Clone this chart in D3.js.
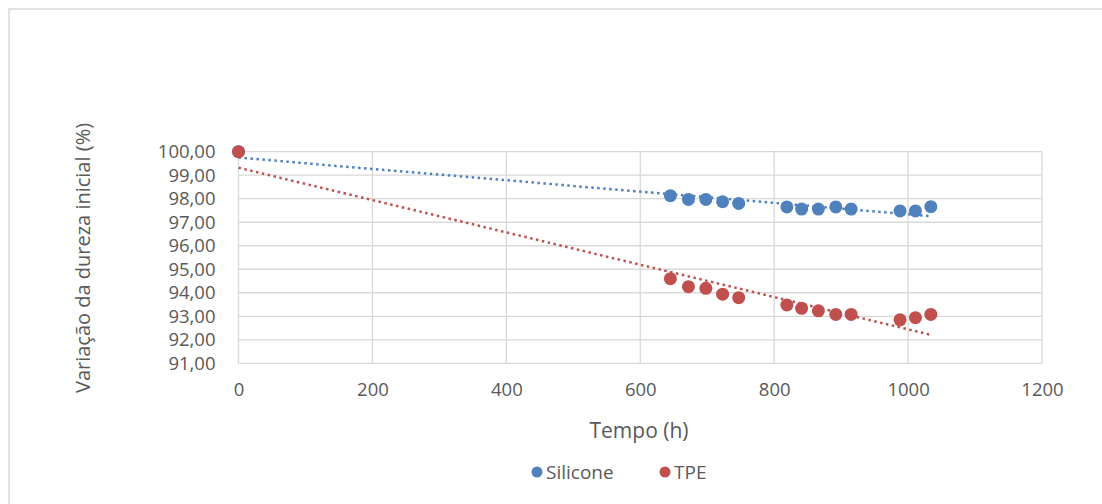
<!DOCTYPE html>
<html>
<head>
<meta charset="utf-8">
<script src="https://cdn.jsdelivr.net/npm/d3@7"></script>
<style>
  html, body { margin: 0; padding: 0; background: #fff; }
  svg { display: block; }
  text { font-family: "Open Sans", "Liberation Sans", sans-serif; fill: #595959; }
</style>
</head>
<body>
<svg id="chart" width="1102" height="504"></svg>
<script>
// Hours of exposure at each measurement
const hours = [0, 645, 672, 698, 723, 747, 819, 841, 866, 892, 915, 988, 1011, 1034];
// Remaining hardness relative to the initial value (%)
const silicone = [100.00, 98.13, 97.97, 97.97, 97.87, 97.80, 97.65, 97.56, 97.56, 97.65, 97.56, 97.48, 97.48, 97.66];
const tpe      = [100.00, 94.60, 94.26, 94.19, 93.94, 93.79, 93.48, 93.34, 93.23, 93.08, 93.08, 92.85, 92.94, 93.08];
const xTicks = [0, 200, 400, 600, 800, 1000, 1200];
const yTicks = [91, 92, 93, 94, 95, 96, 97, 98, 99, 100];
const seriesNames = ["Silicone", "TPE"];
const seriesColors = ["#4F81BD", "#C0504D"];

const svg = d3.select("#chart");

// outer frame of the chart object
svg.append("rect")
  .attr("x", 9).attr("y", 9).attr("width", 1110).attr("height", 510)
  .attr("fill", "none").attr("stroke", "#d9d9d9").attr("stroke-width", 1.5);

const x = d3.scaleLinear().domain([0, 1200]).range([238.5, 1042]);
const y = d3.scaleLinear().domain([91, 100]).range([363.3, 151.7]);

const fmt = v => d3.format(".2f")(v).replace(".", ",");

// gridlines
const grid = svg.append("g");
grid.selectAll("line.h").data(yTicks).join("line")
  .attr("x1", x(0)).attr("x2", x(1200))
  .attr("y1", d => y(d)).attr("y2", d => y(d))
  .attr("stroke", "#d9d9d9").attr("stroke-width", 1.3);
grid.selectAll("line.v").data(xTicks).join("line")
  .attr("y1", y(91)).attr("y2", y(100))
  .attr("x1", d => x(d)).attr("x2", d => x(d))
  .attr("stroke", "#d9d9d9").attr("stroke-width", 1.3);

// y axis labels
const yAxis = svg.append("g").attr("transform", `translate(${x(0)},0)`)
  .call(d3.axisLeft(y).tickValues(yTicks).tickFormat(fmt).tickSize(0).tickPadding(23));
yAxis.select(".domain").remove();
yAxis.selectAll("text").style("font-size", "18.5px").style("fill", "#595959")
  .style("font-family", "'Open Sans', sans-serif");

// x axis labels
const xAxis = svg.append("g").attr("transform", `translate(0,${y(91)})`)
  .call(d3.axisBottom(x).tickValues(xTicks).tickFormat(d3.format("d")).tickSize(0).tickPadding(20));
xAxis.select(".domain").remove();
xAxis.selectAll("text").style("font-size", "18.5px").style("fill", "#595959")
  .style("font-family", "'Open Sans', sans-serif");

// axis titles
svg.append("text")
  .attr("x", 639).attr("y", 438)
  .attr("text-anchor", "middle").style("font-size", "21px")
  .text("Tempo (h)");
svg.append("text")
  .attr("transform", "translate(90,258) rotate(-90)")
  .attr("text-anchor", "middle").style("font-size", "20px")
  .text("Variação da dureza inicial (%)");

// least-squares linear trend for a series
function linearFit(xs, ys) {
  const mx = d3.mean(xs), my = d3.mean(ys);
  let sxy = 0, sxx = 0;
  xs.forEach((xv, i) => { sxy += (xv - mx) * (ys[i] - my); sxx += (xv - mx) ** 2; });
  const slope = sxy / sxx;
  return { slope, intercept: my - slope * mx };
}

const series = [silicone, tpe];

// trendlines
series.forEach((vals, i) => {
  const fit = linearFit(hours, vals);
  const ends = [d3.min(hours), d3.max(hours)];
  svg.append("path")
    .datum(ends)
    .attr("d", d3.line().x(d => x(d)).y(d => y(fit.intercept + fit.slope * d)))
    .attr("fill", "none")
    .attr("stroke", seriesColors[i])
    .attr("stroke-width", 2.5)
    .attr("stroke-dasharray", "2.5,3.5");
});

// markers
series.forEach((vals, i) => {
  svg.append("g").selectAll("circle")
    .data(hours.map((h, k) => [h, vals[k]]))
    .join("circle")
    .attr("cx", d => x(d[0])).attr("cy", d => y(d[1]))
    .attr("r", 6.5)
    .attr("fill", seriesColors[i]);
});

// legend
const legend = svg.append("g");
const legendX = [537, 665];
seriesNames.forEach((name, i) => {
  legend.append("circle").attr("cx", legendX[i]).attr("cy", 472).attr("r", 5.5).attr("fill", seriesColors[i]);
  legend.append("text").attr("x", legendX[i] + 9).attr("y", 479)
    .style("font-size", "19px").text(name);
});
</script>
</body>
</html>
